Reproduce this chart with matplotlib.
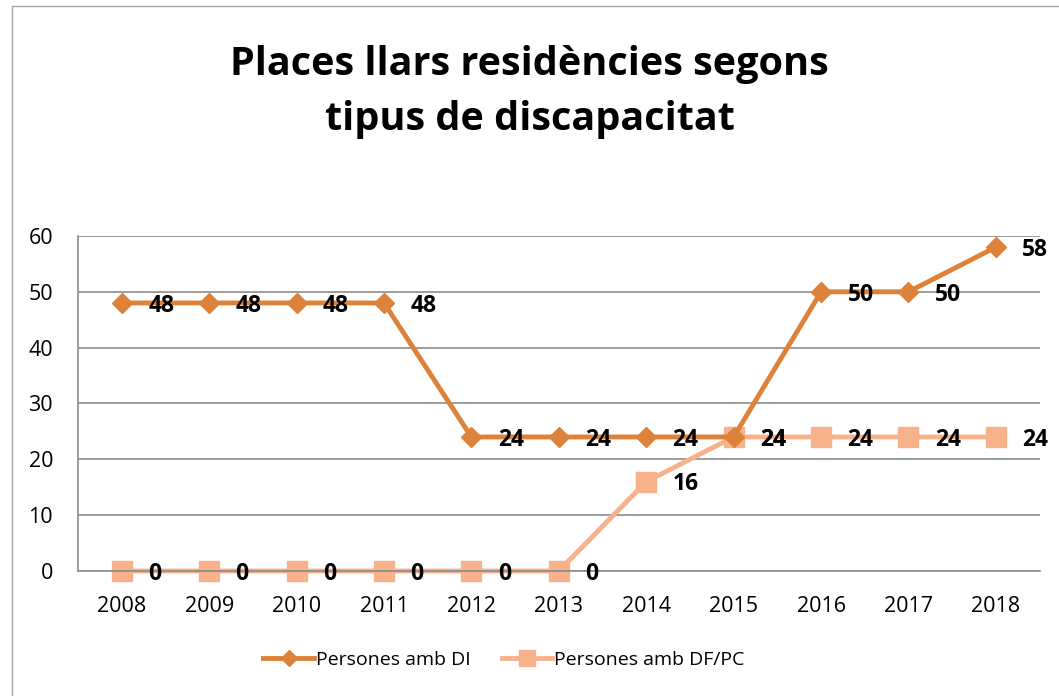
"""
Line chart of residential home places by type of disability, 2008-2018.
"""
import numpy as np
import matplotlib
matplotlib.use("Agg")
import matplotlib.pyplot as plt
from matplotlib.patches import Rectangle

plt.rcParams["font.family"] = ["Open Sans", "DejaVu Sans"]

years = [2008, 2009, 2010, 2011, 2012, 2013, 2014, 2015, 2016, 2017, 2018]
di = [48, 48, 48, 48, 24, 24, 24, 24, 50, 50, 58]
dfpc = [0, 0, 0, 0, 0, 0, 16, 24, 24, 24, 24]
x = np.arange(len(years))

fig = plt.figure(figsize=(10.59, 6.96), dpi=100)
ax = fig.add_axes([0.0737, 0.1796, 0.908, 0.4814])

# Outer chart frame
fig.patches.append(Rectangle((12 / 1059, -0.01), 1.05, 0.9986 - 0.0072 + 0.01,
                             transform=fig.transFigure, fill=False,
                             edgecolor="#a6a6a6", linewidth=1.0))

ax.plot(x, di, color="#dc823b", linewidth=3.5, marker="D", markersize=10,
        label="Persones amb DI", zorder=3, clip_on=False)
ax.plot(x, dfpc, color="#f7b28b", linewidth=3.5, marker="s", markersize=14,
        label="Persones amb DF/PC", zorder=2, clip_on=False)

for xi, v in zip(x, di):
    ax.annotate(str(v), (xi, v), xytext=(19, -2), textcoords="offset points",
                ha="left", va="center", fontsize=16.5, fontweight="bold")
for xi, v in zip(x, dfpc):
    ax.annotate(str(v), (xi, v), xytext=(19, -2), textcoords="offset points",
                ha="left", va="center", fontsize=16.5, fontweight="bold")

ax.set_xlim(-0.5, 10.5)
ax.set_ylim(0, 60)
ax.set_yticks(range(0, 61, 10))
ax.set_xticks(x)
ax.set_xticklabels([str(y) for y in years])
ax.tick_params(axis="both", length=0, labelsize=15.5, pad=18)
ax.tick_params(axis="y", pad=18)
ax.grid(axis="y", color="#8c8c8c", linewidth=1.2)
ax.set_axisbelow(True)
for side in ["top", "right"]:
    ax.spines[side].set_visible(False)
ax.spines["left"].set_color("#8c8c8c")
ax.spines["bottom"].set_color("#8c8c8c")
ax.spines["left"].set_linewidth(1.2)
ax.spines["bottom"].set_linewidth(1.2)

fig.text(0.5, 0.868, "Places llars residències segons\ntipus de discapacitat",
         ha="center", va="center", fontsize=28.5, fontweight="bold", linespacing=1.55)

fig.legend(loc="center", bbox_to_anchor=(0.476, 0.052), ncol=2, frameon=False,
           fontsize=14, handlelength=2.6, handletextpad=0.1, columnspacing=1.6,
           markerscale=0.8)

fig.savefig("out.png", dpi=100)
